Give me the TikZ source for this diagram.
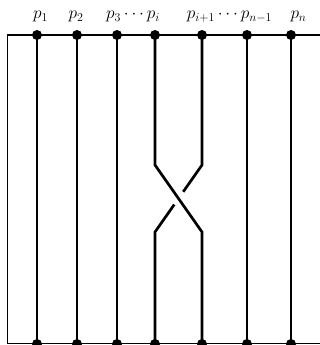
\documentclass[tikz,border=0pt]{standalone}
\usetikzlibrary{calc}
\begin{document}
\begin{tikzpicture}[x=1pt,y=-1pt,
  frame/.style={line width=1.4pt},
  strand/.style={line width=2.7pt},
  dot/.style={circle,fill=black,inner sep=0pt,minimum size=10pt},
  lab/.style={anchor=base,inner sep=0pt,font=\fontsize{17}{20}\selectfont}]
\useasboundingbox (0,0) rectangle (320,345);
\clip (0,0) rectangle (320,345);
% frame
\coordinate (ftr) at (321,35);
\coordinate (ftl) at (7.5,35);
\coordinate (fbl) at (7.5,343.3);
\coordinate (fbr) at (321,343.3);
\draw[frame] (ftr) -- (ftl) -- (fbl) -- (fbr);
% dots
\foreach \n/\x in {1/37,2/77,3/117,4/155,5/202,6/247,7/291}{
  \node[dot] (t\n) at (\x,35) {};
  \node[dot] (b\n) at (\x,344) {};
}
% straight strands
\foreach \n in {1,2,3,6,7}{
  \draw[strand] (t\n.center) -- (b\n.center);
}
% crossing
\coordinate (l1) at (155,165);
\coordinate (r1) at (202,165);
\coordinate (l2) at (155,232);
\coordinate (r2) at (202,232);
\coordinate (g1) at ($(r1)!0.40!(l2)$);
\coordinate (g2) at ($(r1)!0.59!(l2)$);
\draw[strand] (t4.center) -- (l1) -- (r2) -- (b5.center);
\draw[strand] (t5.center) -- (r1) -- (g1);
\draw[strand] (g2) -- (l2) -- (b4.center);
% labels
\node[lab] (L1) at (40.5,19) {$p_1$};
\node[lab] (L2) at (76,19) {$p_2$};
\node[lab] (L3) at (133,19) {$p_3\cdots p_i$};
\node[lab] (L4) at (229.5,19) {$p_{i+1}\cdots p_{n-1}$};
\node[lab] (L5) at (298.5,19) {$p_n$};
\end{tikzpicture}
\end{document}
